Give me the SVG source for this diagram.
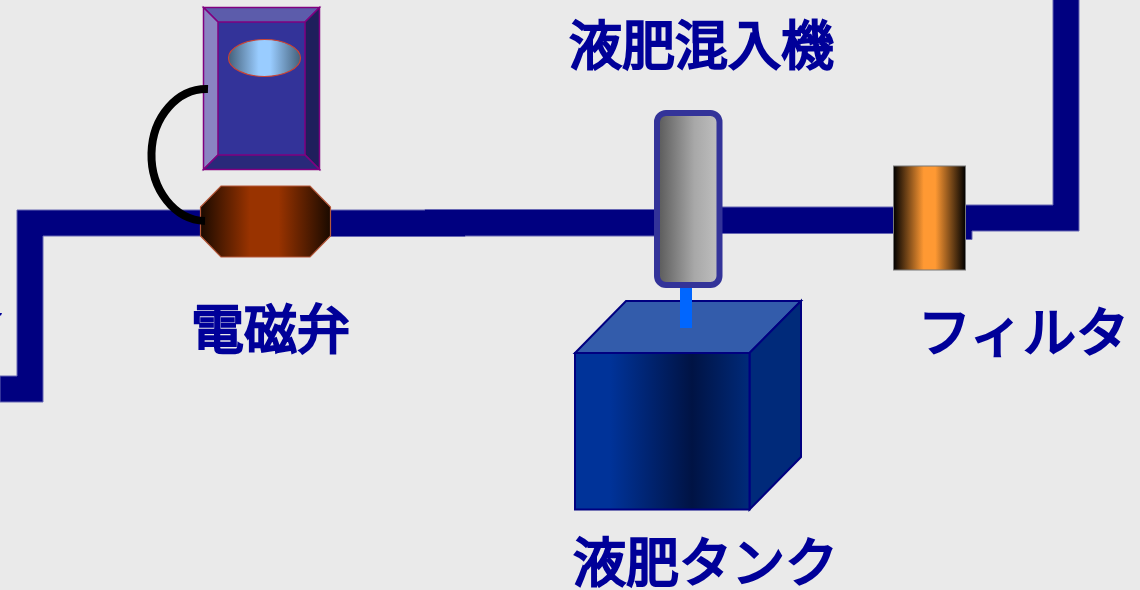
<svg xmlns="http://www.w3.org/2000/svg" width="1140" height="590" viewBox="0 0 1140 590">
<style>
.pipe{fill:#000080;stroke:#6666b3;stroke-width:1}
.label{font-family:"Noto Sans CJK JP","Liberation Sans",sans-serif;font-size:53px;font-weight:400;fill:#000099;stroke:#000099;stroke-width:2.400}
.bevel{stroke:#800080;stroke-width:1.500}
.cube{stroke:#000080;stroke-width:2}
</style>
<defs>
<linearGradient id="gEll"><stop offset="0" stop-color="#44607a"/><stop offset="0.42" stop-color="#99ccff"/><stop offset="0.58" stop-color="#99ccff"/><stop offset="1" stop-color="#44607a"/></linearGradient>
<linearGradient id="gValve"><stop offset="0" stop-color="#1a0a00"/><stop offset="0.38" stop-color="#993300"/><stop offset="0.6" stop-color="#993300"/><stop offset="1" stop-color="#1a0a00"/></linearGradient>
<linearGradient id="gMix"><stop offset="0" stop-color="#585858"/><stop offset="0.6" stop-color="#a8a8a8"/><stop offset="1" stop-color="#c0c0c0"/></linearGradient>
<linearGradient id="gTank"><stop offset="0" stop-color="#003399"/><stop offset="0.2" stop-color="#003399"/><stop offset="0.67" stop-color="#001344"/><stop offset="1" stop-color="#002a7a"/></linearGradient>
<linearGradient id="gFilter"><stop offset="0" stop-color="#000"/><stop offset="0.42" stop-color="#ff9933"/><stop offset="0.58" stop-color="#ff9933"/><stop offset="1" stop-color="#000"/></linearGradient>
</defs>
<rect width="1140" height="590" fill="#eaeaea"/>
<g id="connectors">
<path class="pipe" d="M0,376H17V210H205V236H43V402H0Z"/>
<path class="pipe" d="M325,210H425V209.500H660V236H465V236.500H325Z"/>
<path class="pipe" d="M715,207H900V233.500H715Z"/>
<path class="pipe" d="M960,205H1053V-2H1079V231H972V239.500H960Z"/>
<path d="M0,313H2L1,315.500H0Z" fill="#000099"/>
</g>
<g id="controller">
<rect x="203.500" y="7.500" width="116" height="162" fill="#333399"/>
<path class="bevel" d="M203.500,7.500H319.500L305,22H218Z" fill="#5c5cab"/>
<path class="bevel" d="M203.500,7.500L218,22V155L203.500,169.500Z" fill="#8a84c2"/>
<path class="bevel" d="M319.500,7.500V169.500L305,155V22Z" fill="#1f1f5c"/>
<path class="bevel" d="M203.500,169.500L218,155H305L319.500,169.500Z" fill="#29297a"/>
<ellipse cx="264.500" cy="58" rx="36" ry="18.500" fill="url(#gEll)" stroke="#cc4433" stroke-width="1.200"/>
</g>
<g id="valve">
<path d="M221,186H310L330.500,207V236L310,257H221L200.500,236V207Z" fill="url(#gValve)" stroke="#b5583a" stroke-width="1.200"/>
</g>
<g id="tank">
<path class="cube" d="M575,353L626,301H801L749.500,353Z" fill="#335cab"/>
<path class="cube" d="M749.500,353L801,301V457L749.500,509.500Z" fill="#002a7a"/>
<rect class="cube" x="575" y="353" width="174.500" height="156.500" fill="url(#gTank)"/>
<rect x="680" y="287" width="12" height="41" fill="#0066ff"/>
</g>
<g id="mixer">
<rect x="657" y="113" width="62.500" height="172" rx="9" fill="url(#gMix)" stroke="#333399" stroke-width="6"/>
</g>
<g id="filter">
<rect x="893.500" y="166" width="72" height="104" fill="url(#gFilter)" stroke="#777" stroke-width="1"/>
</g>
<g id="wire">
<path d="M208,89A55,66 0 0 0 205,221" fill="none" stroke="#000" stroke-width="8"/>
</g>
<g id="labels">
<text class="label" x="569" y="65">液肥混入機</text>
<text class="label" x="191" y="349">電磁弁</text>
<text class="label" x="918" y="352">フィルタ</text>
<text class="label" x="573" y="582">液肥タンク</text>
</g>
</svg>
